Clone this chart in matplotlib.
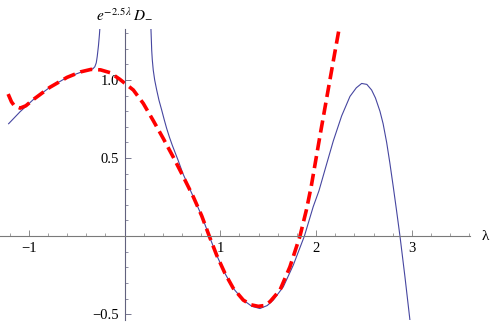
import numpy as np
import matplotlib
matplotlib.use("Agg")
from matplotlib import pyplot as plt
from matplotlib.ticker import MultipleLocator, FixedLocator

plt.rcParams['font.family'] = ['Liberation Serif', 'DejaVu Serif']
plt.rcParams['mathtext.fontset'] = 'stix'

# blue curve, left branch (before the pole)
lam_b1 = [-1.21, -1.09, -0.95, -0.78, -0.60, -0.46, -0.36, -0.33, -0.31,
          -0.295, -0.285, -0.272, -0.262, -0.254]
val_b1 = [0.72, 0.797, 0.876, 0.953, 1.017, 1.049, 1.064, 1.072, 1.085,
          1.11, 1.15, 1.22, 1.29, 1.36]

# blue curve, right branch (after the pole)
lam_b2 = [0.274, 0.28, 0.284, 0.29, 0.30, 0.315, 0.336, 0.36, 0.388, 0.415,
          0.44, 0.47, 0.50, 0.56, 0.61, 0.718, 0.806, 0.885, 0.962, 1.049,
          1.136, 1.24, 1.33, 1.414, 1.49, 1.553, 1.658, 1.762, 1.878, 1.97,
          2.03, 2.10, 2.18, 2.267, 2.354, 2.42, 2.476, 2.53, 2.58, 2.62,
          2.667, 2.70, 2.737, 2.77, 2.806, 2.84, 2.876, 2.928, 2.98]
val_b2 = [1.36, 1.26, 1.19, 1.13, 1.064, 1.0, 0.936, 0.87, 0.808, 0.745,
          0.69, 0.632, 0.58, 0.485, 0.40, 0.252, 0.13, 0.0, -0.122, -0.239,
          -0.335, -0.41, -0.45, -0.464, -0.445, -0.41, -0.325, -0.186, 0.0,
          0.188, 0.29, 0.44, 0.61, 0.77, 0.895, 0.95, 0.978, 0.972, 0.936,
          0.885, 0.80, 0.72, 0.60, 0.47, 0.316, 0.165, 0.0, -0.261, -0.538]

# red dashed approximation
lam_r = [-1.215, -1.18, -1.15, -1.09, -1.03, -0.95, -0.78, -0.60, -0.46,
         -0.35, -0.25, -0.15, -0.05, 0.092, 0.196, 0.30, 0.405, 0.51, 0.61,
         0.718, 0.806, 0.885, 0.962, 1.049, 1.136, 1.24, 1.32, 1.397, 1.46,
         1.519, 1.623, 1.727, 1.832, 1.90, 1.95, 2.04, 2.127, 2.197, 2.25]
val_r = [0.91, 0.86, 0.835, 0.82, 0.835, 0.876, 0.953, 1.017, 1.052,
         1.068, 1.065, 1.047, 1.005, 0.936, 0.85, 0.74, 0.625, 0.505, 0.385,
         0.252, 0.13, 0.0, -0.122, -0.239, -0.335, -0.41, -0.44, -0.45,
         -0.445, -0.42, -0.346, -0.197, 0.0, 0.17, 0.32, 0.64, 0.94,
         1.18, 1.36]

xticks_major = [-1, 1, 2, 3]
yticks_major = [-0.5, 0.5, 1.0]

fig = plt.figure(figsize=(4.91, 3.22), dpi=100)
ax = fig.add_axes([0.0, 0.006, 0.957, 0.904])
ax.set_xlim(-1.30, 3.606)
ax.set_ylim(-0.538, 1.327)

blue = '#4646a0'
ax.plot(lam_b1, val_b1, color=blue, lw=0.8)
ax.plot(lam_b2, val_b2, color=blue, lw=0.8)
ax.plot(lam_r, val_r, color='#ff0000', lw=2.6, dashes=(3.4, 1.6),
        dash_capstyle='butt')

for s in ['top', 'right']:
    ax.spines[s].set_visible(False)
ax.spines['left'].set_position(('data', 0))
ax.spines['bottom'].set_position(('data', 0))
ax.spines['left'].set_color('#62627e')
ax.spines['bottom'].set_color('#7a7a7a')
ax.spines['left'].set_linewidth(0.8)
ax.spines['bottom'].set_linewidth(0.8)

ax.xaxis.set_major_locator(FixedLocator(xticks_major))
ax.xaxis.set_minor_locator(MultipleLocator(0.2))
ax.yaxis.set_major_locator(FixedLocator(yticks_major))
ax.yaxis.set_minor_locator(MultipleLocator(0.1))
ax.set_xticklabels([f'{t:g}'.replace('-', '\u2212') for t in xticks_major])
ax.set_yticklabels([f'{t:.1f}'.replace('-', '\u2212') for t in yticks_major])

ax.tick_params(axis='x', which='both', direction='in', color='#7a7a7a',
               labelsize=10.5, pad=4)
ax.tick_params(axis='y', which='both', direction='in', color='#62627e',
               labelsize=10.5, pad=4)
ax.tick_params(which='major', length=4.5, width=0.6)
ax.tick_params(which='minor', length=2.5, width=0.5)

fig.text(482 / 491, 1 - 236 / 322, '\u03bb', ha='left', va='center',
         fontsize=11)
fig.text(124 / 491, 1 - 14 / 322, r'$e^{-2.5\,\lambda}\,D_{-}$',
         ha='center', va='center', fontsize=11)

fig.savefig('out.png', dpi=100)
